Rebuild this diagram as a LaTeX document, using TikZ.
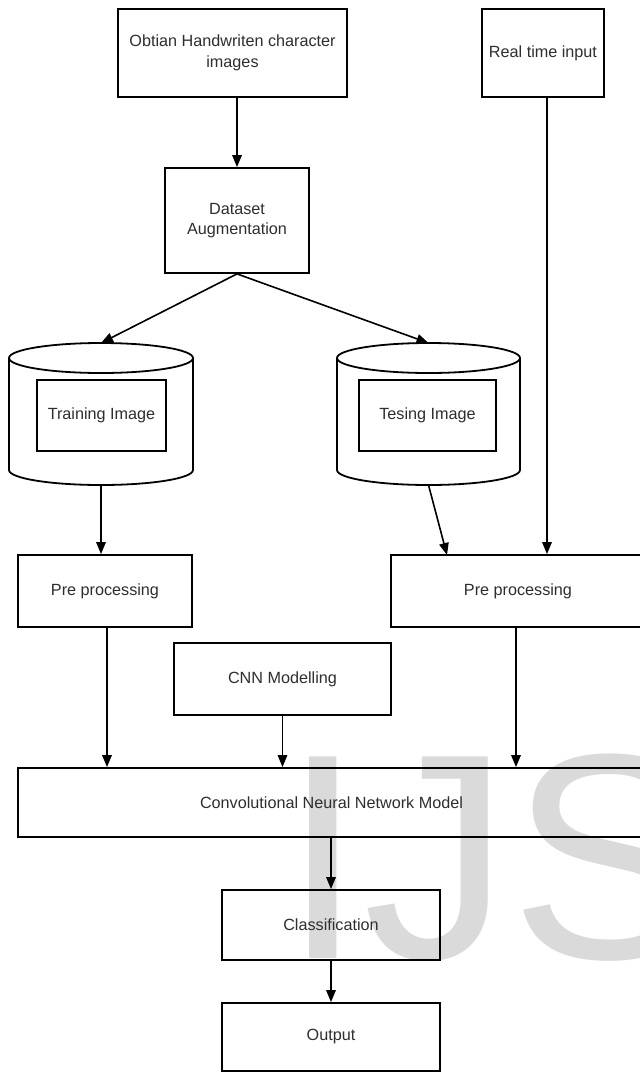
\documentclass[tikz,border=0pt]{standalone}
\usepackage{fontspec}
\setmainfont{Liberation Sans}
\usetikzlibrary{arrows.meta,calc}
\definecolor{txt}{HTML}{2E2E2E}
\definecolor{wmark}{HTML}{DADADA}
\tikzset{
  box/.style={draw=black, line width=1.8pt, fill=none, inner sep=2pt, align=center, text=txt,
    font=\fontsize{16.2}{20.5}\selectfont},
  arr/.style={draw=black, line width=1.6pt, -{Triangle[length=12pt,width=9.5pt]}},
  cyl/.style={draw=black, line width=1.8pt, fill=white}
}
\begin{document}
\begin{tikzpicture}[x=1pt,y=-1pt]
\useasboundingbox (0,0) rectangle (640,1074);
\clip (0,0) rectangle (640,1074);
\fill[white] (0,0) rectangle (640,1074);
% watermark
\node[anchor=base west, inner sep=0pt, text=wmark, font=\fontsize{293}{300}\selectfont] (wm) at (282,958) {IJS};
% boxes
\node[box, minimum width=229pt, minimum height=88pt] (obt) at (232.5,53) {Obtian Handwriten character\\images};
\node[box, minimum width=122pt, minimum height=88pt] (rti) at (543,53) {Real time input};
\node[box, minimum width=144pt, minimum height=105pt] (aug) at (237,220.5) {Dataset\\Augmentation};
% cylinders
\draw[cyl] (9,358) -- (9,470) arc[start angle=180,end angle=360,x radius=92,y radius=-15] -- (193,358);
\draw[cyl] (101,358) ellipse [x radius=92, y radius=15];
\draw[cyl] (337,358) -- (337,470) arc[start angle=180,end angle=360,x radius=91.5,y radius=-15] -- (520,358);
\draw[cyl] (428.5,358) ellipse [x radius=91.5, y radius=15];
\coordinate (trtop) at (101,343);
\coordinate (trbot) at (101,485);
\coordinate (tetop) at (428.5,343);
\coordinate (tebot) at (428.5,485);
\node[box, minimum width=129pt, minimum height=71pt] (trr) at (101.5,415.5) {Training Image};
\node[box, minimum width=137pt, minimum height=71pt] (ter) at (427.5,415.5) {Tesing Image};
\node[box, minimum width=174pt, minimum height=72pt] (preL) at (105,591) {Pre processing};
\node[box, minimum width=254pt, minimum height=72pt] (preR) at (518,591) {Pre processing};
\node[box, minimum width=217pt, minimum height=72pt] (cnn) at (282.5,679) {CNN Modelling};
\node[box, minimum width=627pt, minimum height=69pt] (conv) at (331.5,802.5) {Convolutional Neural Network Model};
\node[box, minimum width=218pt, minimum height=70pt] (cls) at (331,925) {Classification};
\node[box, minimum width=218pt, minimum height=68pt] (out) at (331,1037) {Output};
\coordinate (tein) at (447,555);
% connectors
\draw[arr] (obt.south -| aug.north) -- (aug.north);
\draw[arr] (aug.south) -- (trtop);
\draw[arr] (aug.south) -- (tetop);
\draw[arr] ([xshift=4pt]rti.south) -- ([xshift=4pt]rti.south |- preR.north);
\draw[arr] (trbot) -- (trbot |- preL.north);
\draw[arr] (tebot) -- (tein);
\draw[arr] ([xshift=2pt]preL.south) -- ([xshift=2pt]preL.south |- conv.north);
\draw[arr] (cnn.south) -- (cnn.south |- conv.north);
\draw[arr] ([xshift=-2pt]preR.south) -- ([xshift=-2pt]preR.south |- conv.north);
\draw[arr] (cls.north |- conv.south) -- (cls.north);
\draw[arr] (cls.south) -- (out.north);
\end{tikzpicture}
\end{document}
